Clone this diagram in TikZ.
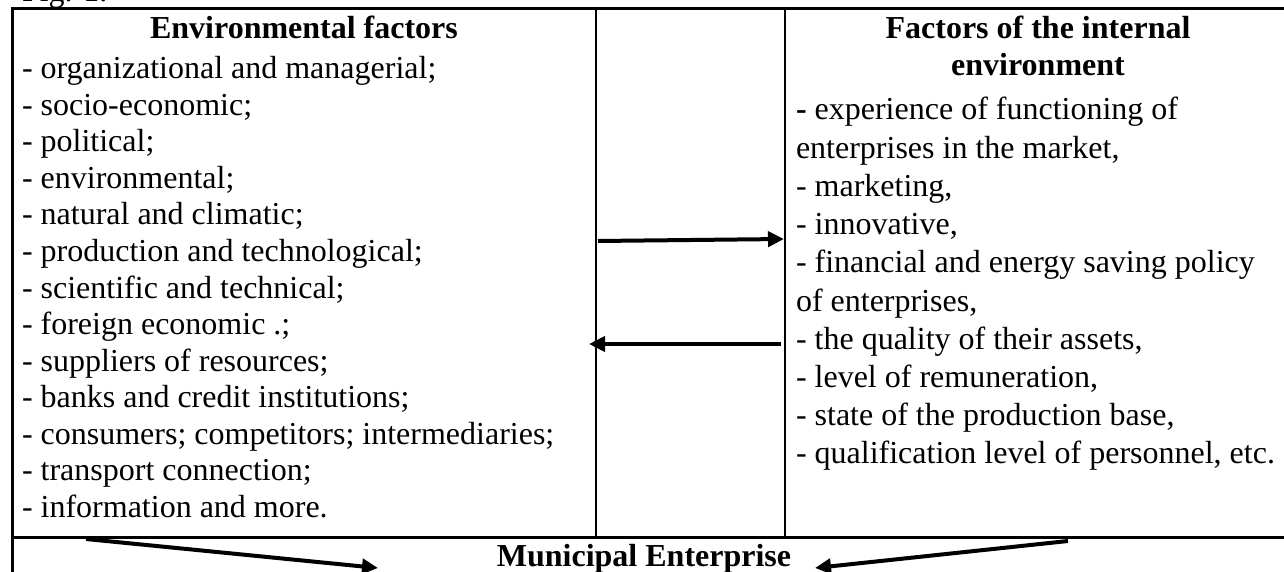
\documentclass[tikz,border=0pt]{standalone}
\usepackage{fontspec}
\setmainfont{Liberation Serif}
\usetikzlibrary{arrows.meta}
\begin{document}
\begin{tikzpicture}[x=0.5pt,y=-0.5pt,
  txt/.style={inner sep=0pt, outer sep=0pt, font=\fontsize{16}{18}\selectfont},
  hdr/.style={inner sep=0pt, outer sep=0pt, font=\fontsize{16}{18}\selectfont\bfseries},
  outerline/.style={line width=1.5pt},
  innerline/.style={line width=1pt},
  arr/.style={line width=2pt, -{Triangle[length=8pt,width=7.5pt]}}]
\useasboundingbox (0,0) rectangle (1284,572);
\clip (0,0) rectangle (1284,572);
% caption (cut off at top)
\node[txt, anchor=base west] (fig) at (22,2) {Fig. 1.};
% table lines
\draw[outerline] (12,600) -- (12,9) -- (1300,9);
\draw[outerline] (12,537) -- (1300,537);
\draw[innerline] (596,9) -- (596,537);
\draw[innerline] (785,9) -- (785,537);
% left column
\node[hdr, anchor=base] (lh) at (304,39) {Environmental factors};
\foreach \t [count=\i] in {{- organizational and managerial;},{- socio-economic;},{- political;},{- environmental;},{- natural and climatic;},{- production and technological;},{- scientific and technical;},{- foreign economic .;},{- suppliers of resources;},{- banks and credit institutions;},{- consumers; competitors; intermediaries;},{- transport connection;},{- information and more.}}
  {\node[txt, anchor=base west] (L\i) at (22,{79+(\i-1)*36.5}) {\t};}
% right column
\node[hdr, anchor=base] (rh1) at (1038,39) {Factors of the internal};
\node[hdr, anchor=base] (rh2) at (1038,76) {environment};
\foreach \t [count=\i] in {{\textbf{-} experience of functioning of},{enterprises in the market,},{- marketing,},{- innovative,},{- financial and energy saving policy},{of enterprises,},{- the quality of their assets,},{- level of remuneration,},{- state of the production base,},{- qualification level of personnel, etc.}}
  {\node[txt, anchor=base west] (R\i) at (796,{120+(\i-1)*38.2}) {\t};}
% bottom
\node[hdr, anchor=base] (me) at (644,566) {Municipal Enterprise};
% connectors
\coordinate (a1s) at (598,241);
\coordinate (a1e) at (784,239);
\coordinate (a2s) at (781,344);
\coordinate (a2e) at (589,344);
\coordinate (b1s) at (86,539);
\coordinate (b1e) at (378,568);
\coordinate (b2s) at (1068,541);
\coordinate (b2e) at (815,568);
\draw[arr] (a1s) -- (a1e);
\draw[arr] (a2s) -- (a2e);
\draw[arr] (b1s) -- (b1e);
\draw[arr] (b2s) -- (b2e);
\end{tikzpicture}
\end{document}
